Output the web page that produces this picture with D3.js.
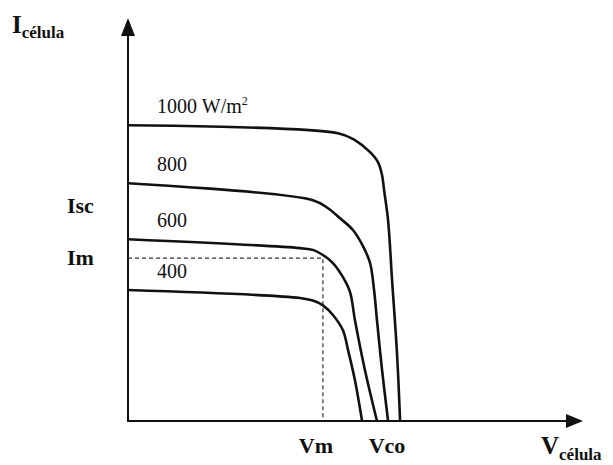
<!DOCTYPE html>
<html>
<head>
<meta charset="utf-8">
<script src="https://cdn.jsdelivr.net/npm/d3@7"></script>
<style>
  body { margin: 0; background: #fff; }
  text { font-family: "Liberation Serif", "Times New Roman", serif; fill: #111; }
</style>
</head>
<body>
<div id="chart"></div>
<script>
// irradiance levels and the I-V curve of each one (V, I in arbitrary units)
const levels = ["1000 W/m", "800", "600", "400"];
const curve1000 = [[0,7.34],[11.54,7.14],[12.47,6.97],[13.3,6.67],[13.74,6.42],[13.96,6.1],[14.07,5.73],[14.29,4.98],[14.51,3.49],[14.78,1.68],[14.95,0]];
const curve800 = [[0,5.9],[10.16,5.48],[10.99,5.28],[11.65,5.03],[12.36,4.74],[12.91,4.34],[13.3,3.92],[13.52,3.25],[13.68,2.5],[13.96,1.26],[14.29,0]];
const curve600 = [[0,4.51],[9.45,4.29],[10.2,4.24],[10.71,4.12],[11.26,3.92],[11.81,3.57],[12.2,3.2],[12.47,2.5],[13.02,1.26],[13.68,0]];
const curve400 = [[0,3.25],[9.45,3.05],[10.27,2.97],[10.71,2.87],[11.26,2.63],[11.81,2.25],[12.09,1.76],[12.47,1.01],[12.86,0]];
const curves = [curve1000, curve800, curve600, curve400];

// max power point
const vm = 10.71;
const im = 4.04;

// set the dimensions
let width = 613, height = 465;

const svg = d3.select("#chart")
              .append("svg")
                .attr("width", width)
                .attr("height", height);

let x = d3.scaleLinear().domain([0, 25]).range([128, 583]);
let y = d3.scaleLinear().domain([0, 10]).range([421, 18]);

// axes with arrow heads
svg.append("line")
    .attr("x1", x(0)).attr("y1", y(0))
    .attr("x2", x(0)).attr("y2", y(10) + 10)
    .attr("stroke", "#111").attr("stroke-width", 2);
svg.append("line")
    .attr("x1", x(0) - 1).attr("y1", y(0))
    .attr("x2", x(25) - 10).attr("y2", y(0))
    .attr("stroke", "#111").attr("stroke-width", 2);

svg.append("path")
    .attr("d", "M" + x(0) + "," + y(10) + "l-7,18l14,0z")
    .attr("fill", "#111");
svg.append("path")
    .attr("d", "M" + x(25) + "," + y(0) + "l-17,-7l0,14z")
    .attr("fill", "#111");

// dashed lines for Im and Vm
svg.append("path")
    .attr("d", "M" + x(0) + "," + y(im) + "H" + x(vm) + "V" + y(0))
    .attr("fill", "none")
    .attr("stroke", "#333")
    .attr("stroke-width", 1.2)
    .attr("stroke-dasharray", "4,3");

// the curves
const line = d3.line()
               .x(function(d) { return x(d[0]); })
               .y(function(d) { return y(d[1]); })
               .curve(d3.curveCatmullRom.alpha(0.5));

svg.selectAll(".curve")
    .data(curves)
    .enter()
    .append("path")
      .attr("class", "curve")
      .attr("d", line)
      .attr("fill", "none")
      .attr("stroke", "#111")
      .attr("stroke-width", 2.6);

// irradiance labels
const lvl = svg.selectAll(".lvl")
    .data(levels)
    .enter()
    .append("text")
      .attr("class", "lvl")
      .attr("x", x(1.6))
      .attr("y", function(d, i) { return y(curves[i][0][1]) - 12; })
      .style("font-size", "20px")
      .text(function(d) { return d; });
lvl.filter(function(d, i) { return i == 0; })
    .append("tspan")
      .attr("dy", -8)
      .style("font-size", "12px")
      .text("2");

// axis annotations
svg.append("text")
    .attr("x", 67).attr("y", 213)
    .style("font-size", "22px").style("font-weight", "bold")
    .text("Isc");
svg.append("text")
    .attr("x", 67).attr("y", y(im) + 7)
    .style("font-size", "22px").style("font-weight", "bold")
    .text("Im");
svg.append("text")
    .attr("x", x(vm) - 7).attr("y", 453)
    .attr("text-anchor", "middle")
    .style("font-size", "22px").style("font-weight", "bold")
    .text("Vm");
svg.append("text")
    .attr("x", 387).attr("y", 453)
    .attr("text-anchor", "middle")
    .style("font-size", "22px").style("font-weight", "bold")
    .text("Vco");

// axis titles
const yTitle = svg.append("text")
    .attr("x", 12).attr("y", 33)
    .style("font-weight", "bold");
yTitle.append("tspan").style("font-size", "25px").text("I");
yTitle.append("tspan").attr("dy", 5).style("font-size", "17px").text("célula");

const xTitle = svg.append("text")
    .attr("x", 541).attr("y", 454)
    .style("font-weight", "bold");
xTitle.append("tspan").style("font-size", "25px").text("V");
xTitle.append("tspan").attr("dy", 6).style("font-size", "17px").text("célula");
</script>
</body>
</html>
